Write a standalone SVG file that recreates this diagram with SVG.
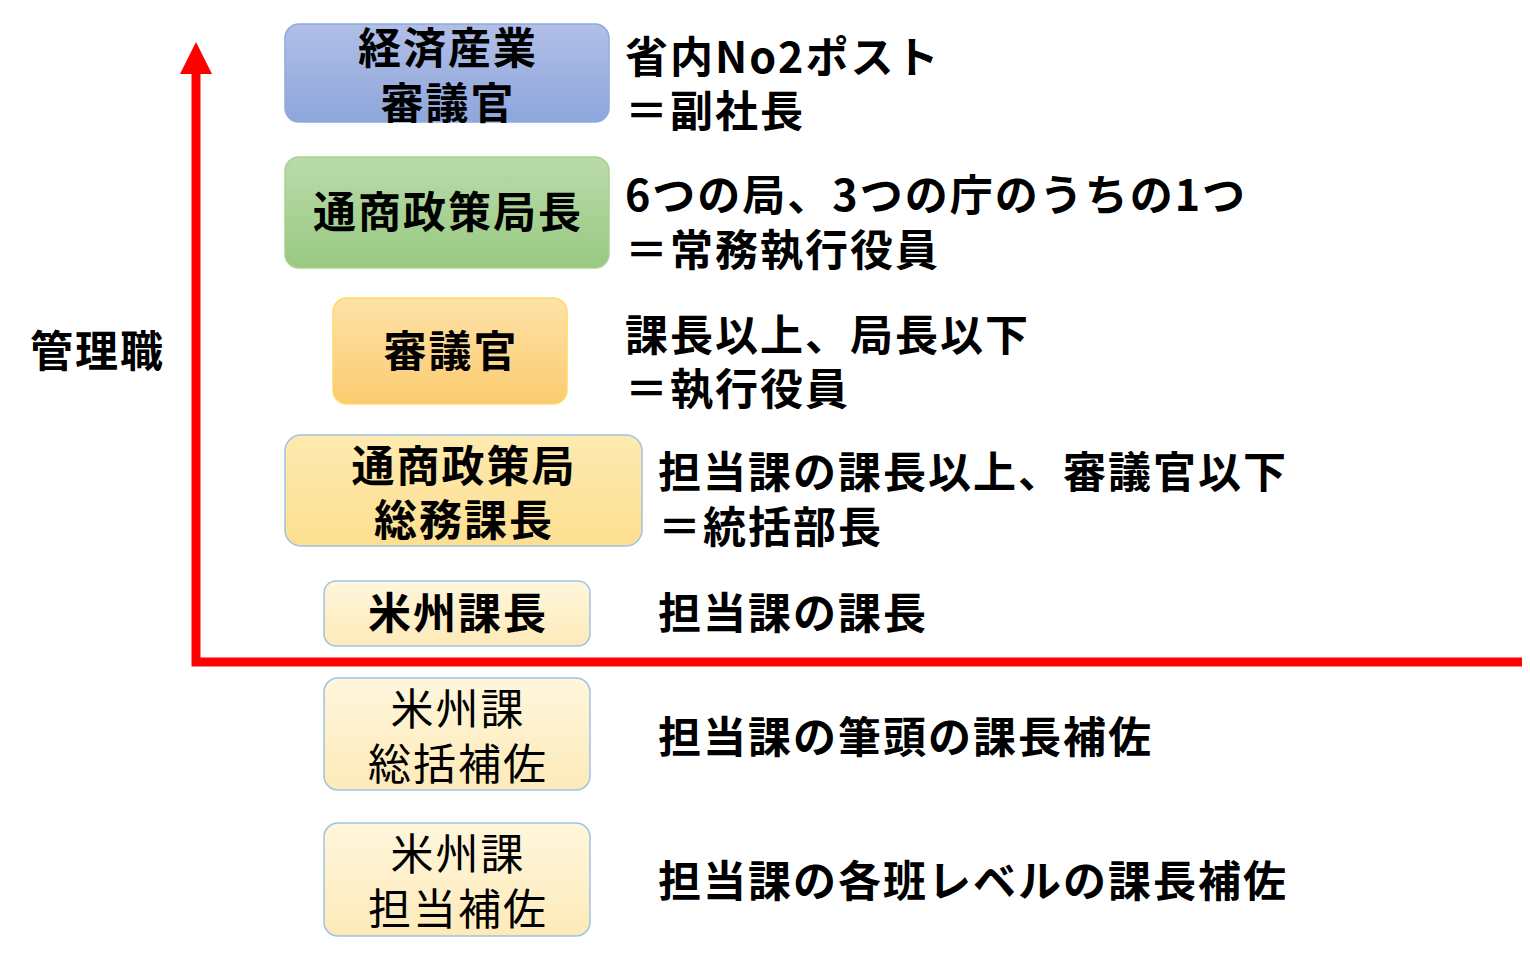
<svg xmlns="http://www.w3.org/2000/svg" width="1530" height="960" viewBox="0 0 1530 960">
<defs>
<linearGradient id="gb" x1="0" y1="0" x2="0" y2="1"><stop offset="0" stop-color="#b0bfe6"/><stop offset="1" stop-color="#8ea6dc"/></linearGradient>
<linearGradient id="gg" x1="0" y1="0" x2="0" y2="1"><stop offset="0" stop-color="#badbab"/><stop offset="1" stop-color="#98c981"/></linearGradient>
<linearGradient id="go" x1="0" y1="0" x2="0" y2="1"><stop offset="0" stop-color="#fee2a8"/><stop offset="1" stop-color="#fbcb70"/></linearGradient>
<linearGradient id="gy" x1="0" y1="0" x2="0" y2="1"><stop offset="0" stop-color="#feeab0"/><stop offset="1" stop-color="#fcdf90"/></linearGradient>
<linearGradient id="gl" x1="0" y1="0" x2="0" y2="1"><stop offset="0" stop-color="#fff6dc"/><stop offset="1" stop-color="#fdeab8"/></linearGradient>
<style>
text{font-family:"Noto Sans CJK JP","Liberation Sans",sans-serif;fill:#000;letter-spacing:2px}
.b{font-weight:bold;font-size:43px;text-anchor:middle}
.n{font-size:43px;text-anchor:middle}
.r{font-weight:bold;font-size:43px}
rect{stroke-width:1.5}
</style>
</defs>
<g id="axes">
<path d="M196,70 V662 H1522" fill="none" stroke="#ff0000" stroke-width="9"/>
<polygon points="196,42 180,74 212,74" fill="#ff0000"/>
</g>
<text class="r" x="30" y="367">管理職</text>
<g id="n1"><rect x="285" y="24" width="324" height="98" rx="14" fill="url(#gb)" stroke="#8faadc"/>
<text class="b" x="448" y="64">経済産業</text><text class="b" x="448" y="119">審議官</text></g>
<g id="n2"><rect x="285" y="157" width="324" height="111" rx="14" fill="url(#gg)" stroke="#a9d18e"/>
<text class="b" x="448" y="228">通商政策局長</text></g>
<g id="n3"><rect x="333" y="298" width="234" height="106" rx="14" fill="url(#go)" stroke="#ffd966"/>
<text class="b" x="451" y="367">審議官</text></g>
<g id="n4"><rect x="285" y="435" width="357" height="111" rx="16" fill="url(#gy)" stroke="#9dc3e6"/>
<text class="b" x="464" y="482">通商政策局</text><text class="b" x="464" y="536">総務課長</text></g>
<g id="n5"><rect x="324" y="581" width="266" height="65" rx="12" fill="url(#gl)" stroke="#9dc3e6"/>
<text class="b" x="458" y="629">米州課長</text></g>
<g id="n6"><rect x="324" y="678" width="266" height="112" rx="14" fill="url(#gl)" stroke="#9dc3e6"/>
<text class="n" x="458" y="725">米州課</text><text class="n" x="458" y="780">総括補佐</text></g>
<g id="n7"><rect x="324" y="823" width="266" height="113" rx="14" fill="url(#gl)" stroke="#9dc3e6"/>
<text class="n" x="458" y="870">米州課</text><text class="n" x="458" y="925">担当補佐</text></g>
<g id="labels">
<text class="r" x="625" y="73">省内No2ポスト</text><text class="r" x="625" y="127">＝副社長</text>
<text class="r" x="625" y="211">6つの局、3つの庁のうちの1つ</text><text class="r" x="625" y="266">＝常務執行役員</text>
<text class="r" x="625" y="351">課長以上、局長以下</text><text class="r" x="625" y="405">＝執行役員</text>
<text class="r" x="658" y="488">担当課の課長以上、審議官以下</text><text class="r" x="658" y="543">＝統括部長</text>
<text class="r" x="658" y="629">担当課の課長</text>
<text class="r" x="658" y="753">担当課の筆頭の課長補佐</text>
<text class="r" x="658" y="897">担当課の各班レベルの課長補佐</text>
</g>
</svg>
